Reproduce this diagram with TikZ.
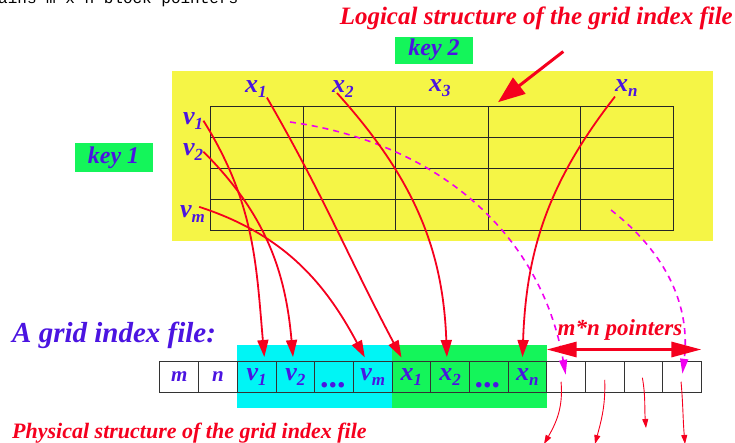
\documentclass[tikz,border=0pt]{standalone}
\usepackage{fontspec}
\setmainfont{Liberation Serif}
\newfontfamily\typewriter{Liberation Mono}
\usetikzlibrary{arrows.meta, positioning, fit, backgrounds}

\definecolor{planeyellow}{RGB}{245,245,70}
\definecolor{keygreen}{RGB}{20,245,90}
\definecolor{blockcyan}{RGB}{0,245,245}
\definecolor{labelblue}{RGB}{75,20,225}
\definecolor{ptrred}{RGB}{245,0,30}
\definecolor{ptrmagenta}{RGB}{240,0,240}

% lowered index for v_i, x_j
\newcommand{\lsub}[1]{\raisebox{-0.45ex}{\fontsize{17}{17}\selectfont #1}}
% the big square-ish dots in the cells
\newcommand{\celldots}{\raisebox{-11pt}[0pt][0pt]{\fontsize{34}{34}\selectfont ...}}

\begin{document}
\begin{tikzpicture}[
  x=1pt, y=-1pt,
  lbl/.style={inner sep=0pt, text=labelblue, font=\fontsize{26}{26}\selectfont\bfseries\itshape},
  keybox/.style={rectangle, fill=keygreen, minimum width=78pt, minimum height=27pt,
                 inner sep=0pt, text=labelblue, font=\fontsize{24}{24}\selectfont\bfseries\itshape},
  cell/.style={rectangle, draw=black!80, line width=1pt, minimum width=38.67pt,
               minimum height=31.5pt, inner sep=0pt, outer sep=0pt, text=labelblue,
               font=\fontsize{26}{26}\selectfont\bfseries\itshape},
  redtext/.style={inner sep=0pt, text=ptrred, font=\bfseries\itshape},
  gridline/.style={draw=black!85, line width=1pt},
  ptr/.style={-{Triangle[length=17pt, width=11pt]}, draw=ptrred, line width=1.8pt},
  dptr/.style={-{Triangle[length=15pt, width=8pt]}, draw=ptrmagenta, line width=1.6pt,
               dash pattern=on 6pt off 5pt},
  sptr/.style={-{Triangle[length=9pt, width=6pt]}, draw=ptrred, line width=0.9pt},
  bigarrow/.style={-{Triangle[length=27pt, width=20pt]}, draw=ptrred, line width=3pt},
  span/.style={{Triangle[length=30pt, width=15pt]}-{Triangle[length=30pt, width=15pt]},
               draw=ptrred, line width=3pt}
]
\useasboundingbox (0,0) rectangle (735,442);

% cut-off line of the page above
\node[anchor=base west, inner sep=0pt, font=\typewriter\fontsize{16}{16}\selectfont] (topline) at (-2,3) {ains m x n block pointers};

\node[redtext, anchor=base east, font=\fontsize{25}{25}\selectfont\bfseries\itshape] (logical) at (733,24) {Logical structure of the grid index file};

% logical structure
\node[rectangle, fill=planeyellow, minimum width=541pt, minimum height=170pt, inner sep=0pt] (plane) at (442.2,156) {};
\node[keybox] (key2) at (434,50) {key 2};
\node[keybox, minimum height=29pt] (key1) at (113.5,157.5) {key 1};

\node[rectangle, gridline, minimum width=462.6pt, minimum height=123.3pt, inner sep=0pt] (grid) at (442,168.35) {};
\foreach \i in {1,...,4}
  \draw[gridline] (210.7+\i*92.52,106.7) -- ++(0,123.3);
\foreach \j in {1,2,3}
  \draw[gridline] (210.7,106.7+\j*30.83) -- ++(462.6,0);

\node[lbl, anchor=base west] (x1) at (245,92) {x\lsub{1}};
\node[lbl, anchor=base west] (x2) at (332,92) {x\lsub{2}};
\node[lbl, anchor=base west] (x3) at (429,91) {x\lsub{3}};
\node[lbl, anchor=base west] (xn) at (615,91) {x\lsub{n}};
\node[lbl, anchor=base west] (v1) at (183,124) {v\lsub{1}};
\node[lbl, anchor=base west] (v2) at (183,155) {v\lsub{2}};
\node[lbl, anchor=base west] (vm) at (180,217) {v\lsub{m}};

% physical structure
\node[lbl, anchor=base west, font=\fontsize{29}{29}\selectfont\bfseries\itshape] (gridfile) at (12,342) {A grid index file:};

\node[cell, font=\fontsize{21}{21}\selectfont\bfseries\itshape] (cm) at (179.33,376.75) {m};
\node[cell, font=\fontsize{21}{21}\selectfont\bfseries\itshape, right=0pt of cm] (cn) {n};
\node[cell, right=0pt of cn] (cv1) {v\lsub{1}};
\node[cell, right=0pt of cv1] (cv2) {v\lsub{2}};
\node[cell, right=0pt of cv2] (cvdots) {\celldots};
\node[cell, right=0pt of cvdots] (cvm) {v\lsub{m}};
\node[cell, right=0pt of cvm] (cx1) {x\lsub{1}};
\node[cell, right=0pt of cx1] (cx2) {x\lsub{2}};
\node[cell, right=0pt of cx2] (cxdots) {\celldots};
\node[cell, right=0pt of cxdots] (cxn) {x\lsub{n}};
\node[cell, right=0pt of cxn] (p1) {};
\node[cell, right=0pt of p1] (p2) {};
\node[cell, right=0pt of p2] (p3) {};
\node[cell, right=0pt of p3] (p4) {};

\begin{scope}[on background layer]
  \node[fit=(cv1)(cvm), inner xsep=0pt, inner ysep=15.75pt, fill=blockcyan] (vblock) {};
  \node[fit=(cx1)(cxn), inner xsep=0pt, inner ysep=15.75pt, fill=keygreen] (xblock) {};
\end{scope}

\node[redtext, anchor=base west, font=\fontsize{22}{22}\selectfont\bfseries\itshape] (physical) at (12,438) {Physical structure of the grid index file};
\node[redtext, anchor=base, font=\fontsize{23}{23}\selectfont\bfseries\itshape] (ptrlabel) at (620,335) {m*n pointers};

% pointers from the grid
\coordinate (dfrom1) at (290,122);
\coordinate (dfrom2) at (611,210);
\draw[dptr, shorten >=2pt] (dfrom1) to[out=-8, in=100] (p1.center);
\draw[dptr, shorten >=3pt] (dfrom2) to[out=-38, in=83] (p4.center);

\draw[bigarrow] ([shift={(27pt,-22pt)}]logical.south) -- ([shift={(56pt,4pt)}]grid.north);

\draw[ptr, shorten >=4pt] (v1.east) to[out=-58, in=95] ([xshift=8pt]cv1.north);
\draw[ptr, shorten >=4pt] (v2.east) to[out=-45, in=95] ([xshift=-2pt]cv2.north);
\draw[ptr, shorten >=4pt] ([shift={(-6pt,-2pt)}]vm.north east) to[out=-18, in=118] ([xshift=-6pt]cvm.north);
\draw[ptr, shorten >=4pt] (x1.south east) to[out=-60, in=118] ([xshift=-8pt]cx1.north);
\draw[ptr, shorten >=4pt] ([shift={(5pt,-1pt)}]x2.base west) to[out=-48, in=92] ([xshift=-3pt]cx2.north);
\draw[ptr, shorten >=4pt] (xn.south west) to[out=-128, in=88] ([xshift=-5pt]cxn.north);

\draw[span] ([yshift=11.5pt]p1.north west) -- ([yshift=11.5pt]p4.north east);

% pointers to the blocks
\coordinate (blk1) at (544,444);
\coordinate (blk2) at (595,444);
\coordinate (blk3) at (646,428);
\coordinate (blk4) at (685,444);
\draw[sptr] ([shift={(-5pt,-5pt)}]p1.center) to[out=-85, in=60] (blk1);
\draw[sptr] ([shift={(0pt,-3pt)}]p2.center) to[out=-88, in=75] (blk2);
\draw[sptr] ([shift={(-1pt,-1pt)}]p3.center) to[out=-80, in=95] (blk3);
\draw[sptr] ([shift={(-1pt,-5pt)}]p4.center) to[out=-85, in=95] (blk4);
\end{tikzpicture}
\end{document}
